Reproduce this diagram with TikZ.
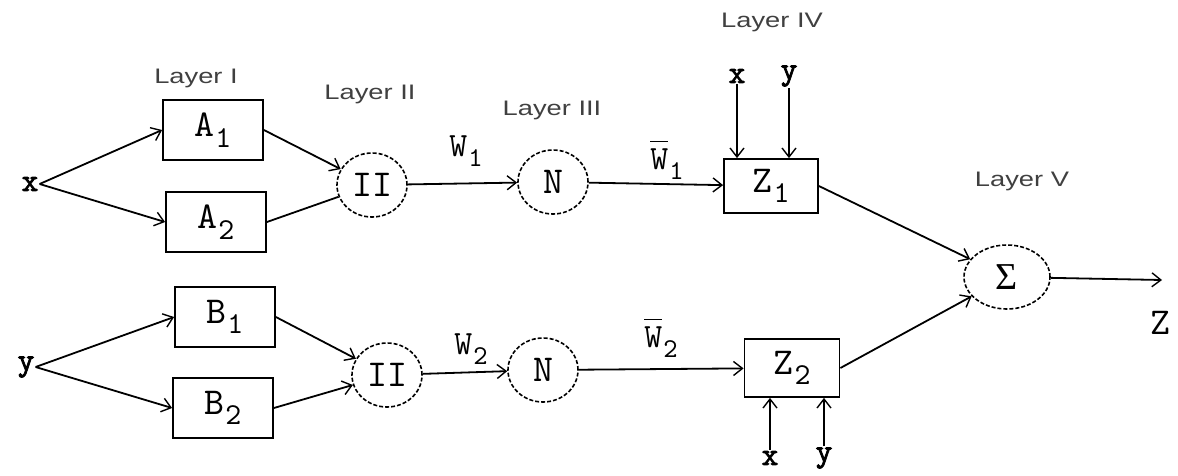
\documentclass[tikz,border=0pt]{standalone}
\usepackage{fontspec}
\setmainfont{Liberation Serif}
\setsansfont{Liberation Sans}
\setmonofont{lmmono10-regular.otf}[AutoFakeBold=2.5]
\usepackage{graphicx}
\usepackage{tikz}
\usetikzlibrary{arrows.meta, positioning, shapes.geometric}

\newcommand\lo[1]{\hspace{1pt}\raisebox{-.28em}{\scalebox{.8}{#1}}}
\newcommand\wbar{\leavevmode\rlap{\rule[.82em]{.52em}{1.6pt}}W}

\tikzset{
  blk/.style ={draw, line width=1.8pt, minimum width=100pt, minimum height=60pt,
               font=\fontsize{38}{38}\ttfamily, inner sep=0pt},
  op/.style  ={draw, ellipse, dash pattern=on 4pt off 2pt, line width=1.6pt,
               minimum width=70pt, minimum height=64pt, inner sep=0pt,
               font=\fontsize{38}{38}\ttfamily},
  arr/.style ={-{Straight Barb[length=9pt, width=14pt, line width=1.4pt]}, line width=1.8pt},
  ln/.style  ={line width=1.8pt},
  lay/.style ={font=\fontsize{21}{21}\sffamily, text=black!75, xscale=1.3},
  var/.style ={font=\fontsize{32}{32}\ttfamily\bfseries, inner sep=1pt},
  wlbl/.style={font=\fontsize{34}{34}\ttfamily, inner sep=1pt},
}

\begin{document}
\begin{tikzpicture}[x=1pt, y=-1pt]
  \useasboundingbox (0,0) rectangle (1178,475);

  % inputs
  \node[var] (x) at (30,184) {x};
  \node[var] (y) at (26,367) {y};

  % layer I
  \node[blk] (A1) at (213,130) {A\lo{1}};
  \node[blk] (A2) at (216,222) {A\lo{2}};
  \node[blk] (B1) at (225,317) {B\lo{1}};
  \node[blk] (B2) at (223,408) {B\lo{2}};

  % layer II
  \node[op] (P1) at (372,185) {II};
  \node[op] (P2) at (387,375) {II};

  % layer III
  \node[op] (N1) at (553,182) {N};
  \node[op] (N2) at (543,370) {N};

  % layer IV
  \node[blk, minimum width=94pt, minimum height=54pt] (Z1) at (771,186) {Z\lo{1}};
  \node[blk, minimum width=95pt, minimum height=58pt] (Z2) at (792,368) {Z\lo{2}};
  \node[var] (x4) at (737,76) {x};
  \node[var] (y4) at (789,76) {y};
  \node[var] (x5) at (770,458) {x};
  \node[var] (y5) at (824,458) {y};

  % layer V
  \node[op, minimum width=86pt, font=\fontsize{38}{38}\rmfamily] (S) at (1007,277) {Σ};
  \node[wlbl, font=\fontsize{38}{38}\ttfamily] (Z) at (1160,323) {Z};
  \coordinate (out) at (1162,280);

  % layer titles
  \node[lay] (L1) at (196,78)  {Layer I};
  \node[lay] (L2) at (370,94)  {Layer II};
  \node[lay] (L3) at (552,110) {Layer III};
  \node[lay] (L4) at (772,22)  {Layer IV};
  \node[lay] (L5) at (1022,181) {Layer V};

  % weights
  \node[wlbl] (w1)  at (466,151) {W\lo{1}};
  \node[wlbl] (wb1) at (667,160) {\wbar\lo{1}};
  \node[wlbl] (w2)  at (471,349) {W\lo{2}};
  \node[wlbl] (wb2) at (661,338) {\wbar\lo{2}};

  % connections
  \draw[arr] (x.east) -- (A1.west);
  \draw[arr] (x.east) -- (A2.west);
  \draw[arr] (y.east) -- (B1.west);
  \draw[arr] (y.east) -- (B2.west);
  \draw[arr] (A1.east) -- (P1);
  \draw[ln]  (A2.east) -- (P1);
  \draw[arr] (B1.east) -- (P2);
  \draw[arr] (B2.east) -- (P2);
  \draw[arr] (P1) -- (N1);
  \draw[arr] (P2) -- (N2);
  \draw[arr] (N1) -- (Z1);
  \draw[arr] (N2) -- (Z2);
  \draw[arr] (x4) -- (x4 |- Z1.north);
  \draw[arr] (y4) -- (y4 |- Z1.north);
  \draw[arr] (x5) -- (x5 |- Z2.south);
  \draw[arr] (y5) -- (y5 |- Z2.south);
  \draw[arr] (Z1.east) -- (S);
  \draw[arr] (Z2.east) -- (S);
  \draw[arr] (S) -- (out);
\end{tikzpicture}
\end{document}
